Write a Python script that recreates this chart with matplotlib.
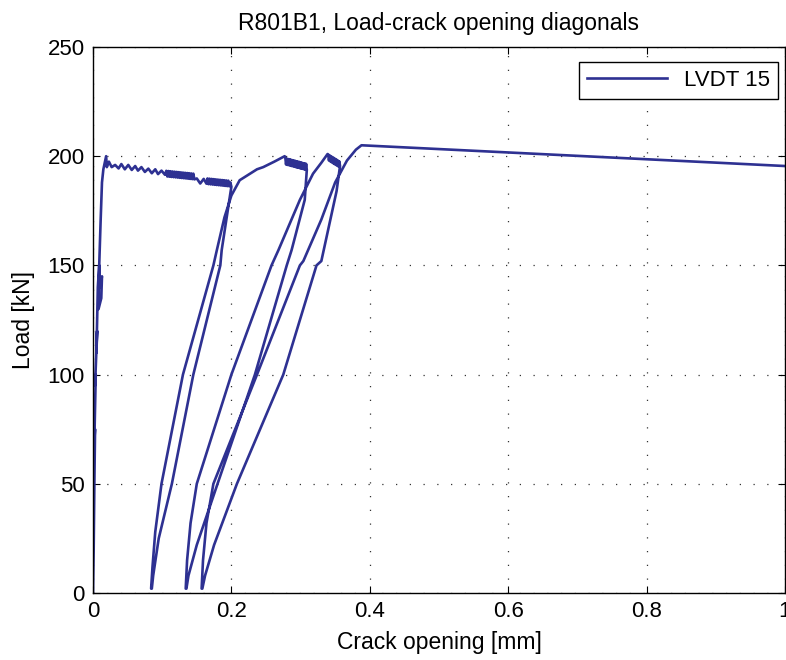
import matplotlib
matplotlib.use("Agg")
import matplotlib.pyplot as plt

plt.rcParams['font.family'] = ['Liberation Sans', 'DejaVu Sans']

# initial loading to first peak
x_init = [0.0, 0.001, 0.002, 0.003, 0.002, 0.004, 0.003, 0.006, 0.005, 0.007,
          0.009, 0.010, 0.013, 0.012, 0.008, 0.009, 0.011, 0.013, 0.015, 0.017, 0.019]
y_init = [0, 20, 50, 75, 70, 100, 95, 120, 110, 140,
          150, 140, 145, 135, 130, 150, 170, 188, 194, 197, 200]

# plateau with oscillations up to first unloading
x_plat = [0.020, 0.023, 0.027, 0.032, 0.037, 0.041, 0.046, 0.051, 0.056, 0.061,
          0.065, 0.070, 0.075, 0.080, 0.085, 0.090, 0.094, 0.099, 0.104,
          0.106, 0.1075, 0.109, 0.1105, 0.112, 0.1135, 0.115, 0.1165, 0.118, 0.1195,
          0.121, 0.1225, 0.124, 0.1255, 0.127, 0.1285, 0.130, 0.1315, 0.133, 0.1345,
          0.136, 0.1375, 0.139, 0.1405, 0.142, 0.1435, 0.145, 0.1465,
          0.150, 0.155, 0.160, 0.164,
          0.1655, 0.167, 0.1685, 0.170, 0.1715, 0.173, 0.1745, 0.176, 0.1775, 0.179,
          0.1805, 0.182, 0.1835, 0.185, 0.1865, 0.188, 0.1895, 0.191, 0.1925, 0.194,
          0.1955, 0.197, 0.1985, 0.200]
y_plat = [195, 197.5, 195, 196, 194.4, 196.4, 194, 196, 193.7, 195.5,
          193.4, 195, 192.8, 194.3, 192.2, 194, 191.8, 193.4, 191.5,
          193.3, 190.7, 193.2, 190.6, 193.1, 190.5, 193.0, 190.4, 192.9, 190.3,
          192.8, 190.2, 192.7, 190.1, 192.6, 190.0, 192.5, 189.9, 192.4, 189.8,
          192.3, 189.7, 192.2, 189.6, 192.1, 189.5, 192.0, 189.4,
          189.8, 187.5, 189.6, 187.4,
          189.8, 187.2, 189.7, 187.1, 189.6, 187.0, 189.5, 186.9, 189.4, 186.8,
          189.3, 186.7, 189.2, 186.6, 189.1, 186.5, 189.0, 186.4, 188.9, 186.3,
          188.8, 186.2, 188.0, 186]

# first unloading and reloading to second peak
x_un1 = [0.199, 0.186, 0.184, 0.145, 0.114, 0.095, 0.087, 0.085]
y_un1 = [184, 157, 150, 100, 50, 25, 8, 2]
x_re1 = [0.084, 0.086, 0.090, 0.099, 0.130, 0.174, 0.179, 0.190, 0.200, 0.212,
         0.237, 0.246, 0.262, 0.277]
y_re1 = [2, 12, 28, 50, 100, 150, 157, 172, 182, 189,
         194, 195, 197.5, 200]

# dense oscillation after second peak
x_osc2 = [0.278, 0.279, 0.280, 0.281, 0.282, 0.283, 0.284, 0.285, 0.286, 0.287,
          0.288, 0.289, 0.290, 0.291, 0.292, 0.293, 0.294, 0.295, 0.296, 0.297,
          0.298, 0.299, 0.300, 0.301, 0.302, 0.303, 0.304, 0.305, 0.306, 0.307,
          0.308, 0.309]
y_osc2 = [199.1, 196.2, 198.9, 196.0, 198.7, 195.9, 198.6, 195.7, 198.4, 195.5,
          198.2, 195.4, 198.0, 195.2, 197.9, 195.0, 197.7, 194.8, 197.5, 194.7,
          197.4, 194.5, 197.2, 194.3, 197.0, 194.2, 196.8, 194.0, 196.7, 193.8,
          196.5, 193.7]

# second unloading and reloading to third peak
x_un2 = [0.306, 0.287, 0.280, 0.234, 0.180, 0.150, 0.138, 0.135]
y_un2 = [180, 157, 150, 100, 50, 22, 8, 2]
x_re2 = [0.134, 0.136, 0.141, 0.150, 0.200, 0.258, 0.268, 0.299, 0.318, 0.330, 0.339]
y_re2 = [2, 15, 32, 50, 100, 150, 157, 180, 192, 197, 201]

# dense oscillation after third peak
x_osc3 = [0.340, 0.341, 0.342, 0.343, 0.344, 0.345, 0.346, 0.347, 0.348, 0.349,
          0.350, 0.351, 0.352, 0.353, 0.354, 0.355, 0.356, 0.357]
y_osc3 = [200.8, 198.0, 200.4, 197.6, 200.0, 197.2, 199.6, 196.8, 199.2, 196.4,
          198.8, 196.0, 198.4, 195.6, 198.0, 195.2, 197.6, 195.5]

# third unloading and final reloading
x_un3 = [0.352, 0.330, 0.323, 0.275, 0.208, 0.175, 0.162, 0.158]
y_un3 = [184, 152, 150, 100, 50, 22, 8, 2]
x_re3 = [0.157, 0.159, 0.164, 0.174, 0.237, 0.299, 0.304, 0.330, 0.350, 0.367,
         0.380, 0.388, 1.0]
y_re3 = [2, 15, 32, 50, 100, 150, 152, 171, 188, 198,
         203, 205, 195.5]

crack = (x_init + x_plat + x_un1 + x_re1 + x_osc2 + x_un2 + x_re2
         + x_osc3 + x_un3 + x_re3)
load = (y_init + y_plat + y_un1 + y_re1 + y_osc2 + y_un2 + y_re2
        + y_osc3 + y_un3 + y_re3)

fig = plt.figure(figsize=(7.86, 6.6), dpi=100)
ax = fig.add_axes([0.1183, 0.1015, 0.8804, 0.8273])
ax.plot(crack, load, color='#2e3192', linewidth=1.9, label='LVDT 15')

ax.set_xlim(0, 1)
ax.set_ylim(0, 250)
ax.set_xticks([0, 0.2, 0.4, 0.6, 0.8, 1])
ax.set_xticklabels(['0', '0.2', '0.4', '0.6', '0.8', '1'])
ax.set_yticks([0, 50, 100, 150, 200, 250])
ax.tick_params(direction='in', top=True, right=True, labelsize=16, length=5, pad=6)
ax.grid(True, linestyle=(0, (1, 10)), color='#333333', linewidth=0.9)
for s in ax.spines.values():
    s.set_linewidth(1.0)

ax.set_title('R801B1, Load-crack opening diagonals', fontsize=16.5, pad=12)
ax.set_xlabel('Crack opening [mm]', fontsize=16.5, labelpad=6)
ax.set_ylabel('Load [kN]', fontsize=16.5, labelpad=9)
leg = ax.legend(loc='upper right', bbox_to_anchor=(0.99, 0.9725), fontsize=16,
                fancybox=False, framealpha=1, edgecolor='black',
                handlelength=3.6, borderpad=0.35, borderaxespad=0)
leg.get_frame().set_linewidth(1.0)

fig.savefig('out.png', dpi=100)
